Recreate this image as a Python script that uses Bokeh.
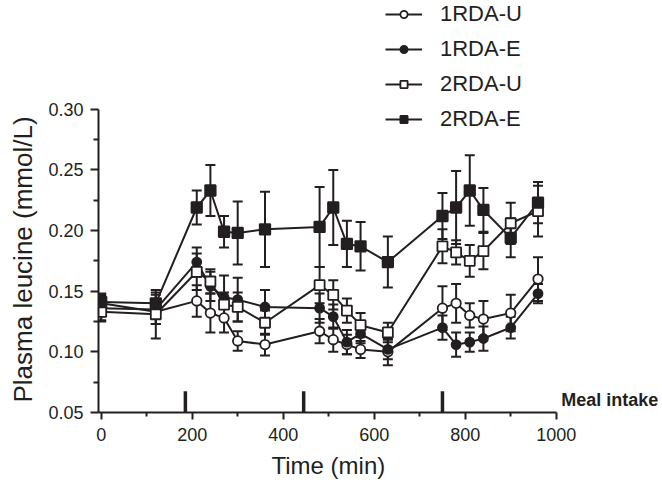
from bokeh.plotting import figure
from bokeh.models import (Range1d, LinearAxis, FixedTicker, PrintfTickFormatter, Title,
                          ColumnDataSource, Whisker, TeeHead, Legend, LegendItem, Label)
from bokeh.embed import file_html
from bokeh.resources import INLINE

# ---------------- data ----------------
times = [0, 120, 210, 240, 270, 300, 360, 480, 510, 540, 570, 630, 750, 780, 810, 840, 900, 960]

rda1_u_mean = [0.140, 0.133, 0.142, 0.132, 0.128, 0.109, 0.106, 0.117, 0.110, 0.106, 0.102, 0.100,
               0.136, 0.140, 0.130, 0.127, 0.132, 0.160]
rda1_u_se = [0.008, 0.010, 0.013, 0.016, 0.012, 0.008, 0.009, 0.010, 0.010, 0.008, 0.007, 0.011,
             0.018, 0.016, 0.010, 0.015, 0.015, 0.018]

rda1_e_mean = [0.136, 0.135, 0.174, 0.154, 0.145, 0.143, 0.137, 0.136, 0.129, 0.108, 0.115, 0.102,
               0.120, 0.106, 0.108, 0.111, 0.120, 0.148]
rda1_e_se = [0.010, 0.012, 0.012, 0.012, 0.018, 0.018, 0.014, 0.012, 0.010, 0.010, 0.008, 0.008,
             0.010, 0.010, 0.008, 0.010, 0.009, 0.008]

rda2_u_mean = [0.133, 0.131, 0.166, 0.158, 0.139, 0.137, 0.124, 0.155, 0.147, 0.134, 0.122, 0.116,
               0.187, 0.182, 0.175, 0.183, 0.206, 0.216]
rda2_u_se = [0.008, 0.020, 0.015, 0.010, 0.010, 0.012, 0.010, 0.015, 0.012, 0.010, 0.010, 0.008,
             0.014, 0.010, 0.013, 0.015, 0.017, 0.021]

rda2_e_mean = [0.141, 0.140, 0.219, 0.233, 0.199, 0.198, 0.201, 0.203, 0.219, 0.189, 0.187, 0.174,
               0.212, 0.219, 0.233, 0.217, 0.194, 0.223]
rda2_e_se = [0.006, 0.009, 0.014, 0.021, 0.013, 0.026, 0.031, 0.033, 0.031, 0.019, 0.020, 0.021,
             0.019, 0.030, 0.029, 0.018, 0.016, 0.017]

series_names = ["1RDA-U", "1RDA-E", "2RDA-U", "2RDA-E"]
meal_times = [185, 445, 750]

x_ticks = [0, 200, 400, 600, 800, 1000]
x_minor = [100, 300, 500, 700, 900]
y_ticks = [0.05, 0.10, 0.15, 0.20, 0.25, 0.30]
y_minor = [0.075, 0.125, 0.175, 0.225, 0.275]

# ---------------- style ----------------
INK = "#231f20"
FONT = "Liberation Sans"

X0, X1 = -5.93, 1229.2
Y0, Y1 = 0.05, 0.38965

p = figure(width=662, height=492, output_backend="svg", toolbar_location=None,
           x_range=Range1d(X0, X1), y_range=Range1d(Y0, Y1),
           x_axis_type=None, y_axis_type=None, title=None,
           min_border_left=98, min_border_right=2, min_border_top=0, min_border_bottom=80)
p.outline_line_color = None
p.background_fill_color = "white"
p.border_fill_color = "white"

xaxis = LinearAxis(bounds=(X0, 1000),
                   ticker=FixedTicker(ticks=x_ticks, minor_ticks=x_minor))
yaxis = LinearAxis(bounds=(0.05, 0.30),
                   ticker=FixedTicker(ticks=y_ticks, minor_ticks=y_minor),
                   formatter=PrintfTickFormatter(format="%.2f"))
for ax, tout, mout, st in ((xaxis, 7, 4, 8), (yaxis, 8, 5, 7)):
    ax.axis_line_color = INK
    ax.axis_line_width = 2
    ax.major_tick_line_color = INK
    ax.major_tick_line_width = 2
    ax.minor_tick_line_color = INK
    ax.minor_tick_line_width = 2
    ax.major_tick_in = 0
    ax.major_tick_out = tout
    ax.minor_tick_in = 0
    ax.minor_tick_out = mout
    ax.major_label_text_font = FONT
    ax.major_label_text_font_size = "18px"
    ax.major_label_text_color = INK
    ax.major_label_standoff = st
p.add_layout(xaxis, "below")
p.add_layout(yaxis, "left")

# axis titles as side-panel titles, positioned along the axis extent via offset
p.add_layout(Title(text="Time (min)", align="left", offset=173, standoff=12,
                   text_font=FONT, text_font_size="24px", text_font_style="normal",
                   text_color=INK), "below")
p.add_layout(Title(text="Plasma leucine (mmol/L)", align="left", offset=10, standoff=12,
                   vertical_align="top",
                   text_font=FONT, text_font_size="26px", text_font_style="normal",
                   text_color=INK), "left")

series = [
    (rda1_u_mean, rda1_u_se, "circle", "white", 9.5),
    (rda1_e_mean, rda1_e_se, "circle", INK, 9.0),
    (rda2_u_mean, rda2_u_se, "square", "white", 10.0),
    (rda2_e_mean, rda2_e_se, "square", INK, 10.5),
]

sources = []
for mean, se, _, _, _ in series:
    src = ColumnDataSource(dict(t=times, m=mean,
                                lo=[m - e for m, e in zip(mean, se)],
                                hi=[m + e for m, e in zip(mean, se)]))
    sources.append(src)
    w = Whisker(source=src, base="t", upper="hi", lower="lo", dimension="height",
                line_color=INK, line_width=2,
                upper_head=TeeHead(size=10, line_color=INK, line_width=2),
                lower_head=TeeHead(size=10, line_color=INK, line_width=2))
    p.add_layout(w)

line_rs = []
for src in sources:
    line_rs.append(p.line("t", "m", source=src, line_color=INK, line_width=2))

scat_rs = []
for src, (_, _, marker, fill, size) in zip(sources, series):
    scat_rs.append(p.scatter("t", "m", source=src, marker=marker, size=size,
                             fill_color=fill, line_color=INK, line_width=1.8))

# meal intake markers
meal_src = ColumnDataSource(dict(t=meal_times, y0=[0.05] * len(meal_times),
                                 y1=[0.0675] * len(meal_times)))
p.segment(x0="t", x1="t", y0="y0", y1="y1", source=meal_src,
          line_color=INK, line_width=3.5, line_cap="butt")

p.add_layout(Label(x=1011, y=0.0605, text="Meal intake", text_font=FONT,
                   text_font_size="18px", text_font_style="bold", text_color=INK,
                   text_align="left", text_baseline="alphabetic"))

legend = Legend(items=[LegendItem(label=n, renderers=[lr, sr])
                       for n, lr, sr in zip(series_names, line_rs, scat_rs)],
                location=(287, 280), orientation="vertical",
                glyph_width=37, glyph_height=18, label_height=25, spacing=9,
                padding=0, margin=0, label_standoff=18,
                label_text_font=FONT, label_text_font_size="22px", label_text_color=INK,
                border_line_color=None, background_fill_alpha=0)
p.add_layout(legend)

open("out.html", "w").write(file_html(p, INLINE))
